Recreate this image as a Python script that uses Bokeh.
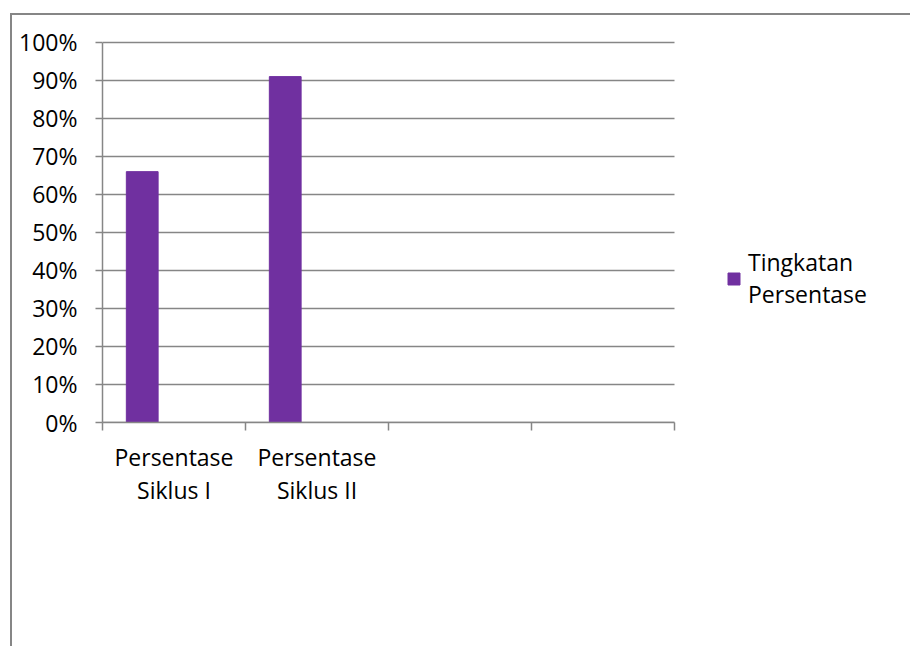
from bokeh.plotting import figure
from bokeh.models import FixedTicker, NumeralTickFormatter, Range1d, Legend, LegendItem, ColumnDataSource
from bokeh.embed import file_html
from bokeh.resources import INLINE

# ---- data ----
categories = ["Persentase\nSiklus I", "Persentase\nSiklus II", "", ""]
series_name = "Tingkatan\nPersentase"
values = [0.66, 0.91]
y_ticks = [0.0, 0.1, 0.2, 0.3, 0.4, 0.5, 0.6, 0.7, 0.8, 0.9, 1.0]
n_series_slots = 3  # clustered layout with 3 series slots, only first filled

FONT = "Open Sans"
GRAY = "#868686"
PURPLE = "#7030A0"
FS = "23px"

n_cat = len(categories)
slot_w = 1.0 / (n_series_slots + 1.5)
centers = [i + 0.5 for i in range(n_cat)]
bar_x = [centers[i] - slot_w for i in range(len(values))]
src = ColumnDataSource(dict(x=bar_x, top=values))

# plot area of the categories is 572 px wide; the frame is widened to host the legend
CAT_PX = 572
FRAME_W = 798
x_end = n_cat * FRAME_W / CAT_PX

p = figure(width=900, height=633, output_backend="svg", toolbar_location=None,
           x_range=Range1d(0, x_end), y_range=Range1d(0, 1.005),
           min_border_left=90, min_border_right=900 - 90 - FRAME_W,
           min_border_top=25, min_border_bottom=226)
p.styles = {"border-top": "2px solid #868686", "border-left": "2px solid #868686",
            "margin-left": "10px", "margin-top": "13px"}
p.outline_line_color = None
p.background_fill_color = "white"
p.border_fill_color = "white"
p.xgrid.grid_line_color = None
p.ygrid.grid_line_color = None

# horizontal gridlines spanning the category area only
p.segment(x0=[0] * len(y_ticks), x1=[n_cat] * len(y_ticks), y0=y_ticks, y1=y_ticks,
          line_color=GRAY, line_width=1.5)

r = p.vbar(x="x", top="top", bottom=0, width=slot_w, source=src,
           fill_color=PURPLE, line_color=PURPLE)

# y axis
ya = p.yaxis[0]
ya.bounds = (0, 1)
ya.ticker = FixedTicker(ticks=y_ticks, minor_ticks=[])
ya.formatter = NumeralTickFormatter(format="0%")
ya.axis_line_color = GRAY
ya.axis_line_width = 1.5
ya.major_tick_line_color = GRAY
ya.major_tick_line_width = 1.5
ya.major_tick_in = 0
ya.major_tick_out = 7
ya.minor_tick_line_color = None
ya.major_label_text_font = FONT
ya.major_label_text_font_size = FS
ya.major_label_text_color = "black"
ya.major_label_standoff = 18

# x axis
xa = p.xaxis[0]
xa.bounds = (0, n_cat)
xa.ticker = FixedTicker(ticks=centers, minor_ticks=list(range(n_cat + 1)))
xa.major_label_overrides = {c: lab for c, lab in zip(centers, categories)}
xa.axis_line_color = GRAY
xa.axis_line_width = 1.5
xa.major_tick_line_color = None
xa.minor_tick_line_color = GRAY
xa.minor_tick_line_width = 1.5
xa.minor_tick_in = 0
xa.minor_tick_out = 8
xa.major_label_text_font = FONT
xa.major_label_text_font_size = FS
xa.major_label_text_color = "black"
xa.major_label_text_line_height = 1.05
xa.major_label_standoff = 10

legend = Legend(items=[LegendItem(label=series_name, renderers=[r])],
                location=(624, 112), padding=0, margin=0, spacing=0,
                border_line_color=None, background_fill_alpha=0,
                glyph_width=15, glyph_height=15, label_standoff=7,
                label_text_font=FONT, label_text_font_size=FS,
                label_text_color="black",
                label_text_line_height=1.35)
p.add_layout(legend, "center")

open("out.html", "w").write(file_html(p, INLINE))
